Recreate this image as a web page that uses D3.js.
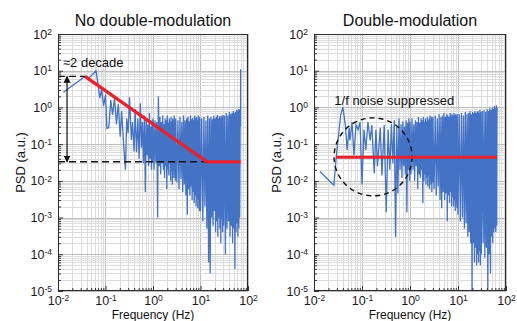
<!DOCTYPE html>
<html>
<head>
<meta charset="utf-8">
<script src="https://cdn.jsdelivr.net/npm/d3@7/dist/d3.min.js"></script>
<style>
  body { margin: 0; background: #fff; }
  svg { display: block; font-family: Arial, "Liberation Sans", sans-serif; }
</style>
</head>
<body>
<svg id="chart" width="517" height="321"></svg>
<script>
// ---- data ----
const titles = ['No double-modulation', 'Double-modulation'];
const xTicks = [0.01, 0.1, 1, 10, 100];
const yTicks = [1e-5, 1e-4, 1e-3, 1e-2, 1e-1, 1, 10, 100];

// [frequency (Hz), PSD (a.u.)]
const psdNoMod = [
  [0.013, 2.6], [0.037, 7], [0.045, 6.3], [0.063, 10], [0.071, 3.5], [0.076, 1.8], [0.083, 3.2],
  [0.091, 1.1], [0.1, 2.2], [0.107, 0.27], [0.117, 0.28], [0.129, 1.6], [0.141, 0.63], [0.155, 1.8],
  [0.17, 0.35], [0.186, 1.26], [0.204, 0.16], [0.219, 0.8], [0.24, 0.1], [0.263, 0.02], [0.28, 0.5],
  [0.30, 0.2], [0.32, 1.9], [0.35, 0.13], [0.37, 0.4], [0.40, 0.063],
  [0.42, 0.9], [0.45, 0.06], [0.48, 0.5], [0.51, 0.04], [0.54, 1.3], [0.57, 0.08], [0.60, 0.4],
  [0.63, 0.03], [0.66, 0.6], [0.69, 0.005], [0.72, 0.5], [0.75, 0.05], [0.78, 0.35], [0.81, 0.025],
  [0.84, 0.7], [0.87, 0.04], [0.90, 0.3], [0.93, 0.02], [0.96, 0.45], [0.99, 0.035],
  [1.00, 0.5], [1.05, 0.02], [1.10, 0.45], [1.15, 0.03], [1.20, 0.4], [1.25, 0.001], [1.30, 2.0],
  [1.35, 0.025], [1.40, 0.55], [1.45, 0.015], [1.50, 0.4], [1.55, 0.03], [1.60, 0.6], [1.65, 0.02],
  [1.70, 0.35], [1.75, 0.012], [1.80, 0.5], [1.85, 0.025], [1.90, 0.45], [1.95, 0.006], [2.00, 0.6],
  [2.05, 0.02], [2.10, 0.38], [2.15, 0.014], [2.20, 0.5], [2.25, 0.03], [2.30, 0.42], [2.35, 0.01],
  [2.40, 0.55], [2.45, 0.018], [2.50, 0.4], [2.55, 0.008], [2.60, 0.5], [2.65, 0.02], [2.70, 0.45],
  [2.75, 0.012], [2.80, 0.6], [2.85, 0.016], [2.90, 0.4], [2.95, 0.01],
  [3.0, 0.5], [3.175, 0.009], [3.35, 0.45], [3.525, 0.006], [3.7, 0.55], [3.875, 0.011], [4.05, 0.4],
  [4.225, 0.005], [4.4, 0.6], [4.575, 0.008], [4.75, 0.45], [4.925, 0.004], [5.1, 0.5], [5.275, 0.0012],
  [5.45, 0.55], [5.625, 0.006], [5.8, 0.42], [5.975, 0.004], [6.15, 0.6], [6.325, 0.007], [6.5, 0.48],
  [6.675, 0.003], [6.85, 0.52], [7.025, 0.005], [7.2, 0.45], [7.375, 0.0025], [7.55, 0.6], [7.725, 0.004],
  [7.9, 0.5], [8.075, 0.002], [8.25, 0.55], [8.425, 0.0035], [8.6, 0.45], [8.775, 0.0018], [8.95, 0.6],
  [9.125, 0.003], [9.3, 0.5], [9.475, 0.0015], [9.65, 0.55],
  [10.0, 0.0015], [10.6, 0.5], [11.2, 0.0008], [11.8, 0.55], [12.4, 0.002], [13.0, 0.45], [13.6, 0.0005],
  [14.2, 0.6], [14.8, 0.00006], [15.4, 0.5], [16.0, 0.00003], [16.6, 0.55], [17.2, 0.001], [17.8, 0.48],
  [18.4, 0.0006], [19.0, 0.6], [19.6, 0.0015], [20.2, 0.5], [20.8, 0.0004], [21.4, 0.55], [22.0, 0.0008],
  [22.6, 0.62], [23.2, 0.0003], [23.8, 0.5], [24.4, 0.001], [25.0, 0.58], [25.6, 0.0005], [26.2, 0.52],
  [26.8, 0.0002], [27.4, 0.6], [28.0, 0.0009], [28.6, 0.55], [29.2, 0.0004], [29.8, 0.62],
  [30.6, 0.0006], [32.0, 0.6], [33.4, 0.0001], [34.8, 0.7], [36.2, 0.0005], [37.6, 0.6], [39.0, 0.0008],
  [40.4, 0.75], [41.8, 0.0003], [43.2, 0.65], [44.6, 0.0006], [46.0, 0.7], [47.4, 0.0002], [48.8, 0.8],
  [50.2, 0.0005], [51.6, 0.7], [53.0, 0.00004], [54.4, 0.75], [55.8, 0.0004], [57.2, 0.85], [58.6, 0.0007],
  [60.0, 0.8], [61.4, 0.0003], [62.8, 0.9], [64.2, 0.0005], [65.6, 0.85], [67.0, 0.001], [68.4, 0.9],
  [69.5, 0.3], [70, 11]
];

const psdDoubleMod = [
  [0.0133, 0.018], [0.026, 0.0076], [0.029, 0.044], [0.036, 0.63], [0.04, 1.0], [0.045, 0.33],
  [0.049, 0.07], [0.054, 0.28], [0.056, 0.126], [0.062, 0.4], [0.068, 0.05], [0.075, 0.33],
  [0.083, 0.25], [0.091, 0.4], [0.1, 0.008], [0.11, 0.25], [0.12, 0.07], [0.133, 0.4], [0.148, 0.126],
  [0.16, 0.33], [0.18, 0.016], [0.195, 0.25], [0.21, 0.025], [0.24, 0.28], [0.26, 0.014], [0.29, 0.33],
  [0.32, 0.0014], [0.35, 0.25],
  [0.38, 0.02], [0.41, 0.35], [0.44, 0.03], [0.47, 0.45], [0.50, 0.0003], [0.53, 0.3], [0.56, 0.0045],
  [0.59, 0.5], [0.62, 0.02], [0.65, 0.35], [0.68, 0.012], [0.71, 0.42], [0.74, 0.025], [0.77, 0.3],
  [0.80, 0.015], [0.83, 0.45], [0.86, 0.0014], [0.89, 0.38], [0.92, 0.02], [0.95, 0.5], [0.98, 0.01],
  [1.00, 0.4], [1.05, 0.015], [1.10, 0.5], [1.15, 0.02], [1.20, 0.35], [1.25, 0.01], [1.30, 0.45],
  [1.35, 0.025], [1.40, 0.4], [1.45, 0.006], [1.50, 0.55], [1.55, 0.015], [1.60, 0.38], [1.65, 0.012],
  [1.70, 0.5], [1.75, 0.02], [1.80, 0.45], [1.85, 0.0025], [1.90, 0.55], [1.95, 0.01], [2.00, 0.4],
  [2.05, 0.015], [2.10, 0.5], [2.15, 0.008], [2.20, 0.42], [2.25, 0.012], [2.30, 0.55], [2.35, 0.007],
  [2.40, 0.45], [2.45, 0.014], [2.50, 0.5], [2.55, 0.006], [2.60, 0.6], [2.65, 0.01], [2.70, 0.45],
  [2.75, 0.008], [2.80, 0.55], [2.85, 0.005], [2.90, 0.5], [2.95, 0.009],
  [3.0, 0.55], [3.175, 0.006], [3.35, 0.6], [3.525, 0.004], [3.7, 0.5], [3.875, 0.007], [4.05, 0.65],
  [4.225, 0.003], [4.4, 0.55], [4.575, 0.0018], [4.75, 0.6], [4.925, 0.005], [5.1, 0.7], [5.275, 0.003],
  [5.45, 0.55], [5.625, 0.0045], [5.8, 0.65], [5.975, 0.0008], [6.15, 0.6], [6.325, 0.004], [6.5, 0.55],
  [6.675, 0.0025], [6.85, 0.7], [7.025, 0.005], [7.2, 0.6], [7.375, 0.002], [7.55, 0.65], [7.725, 0.0035],
  [7.9, 0.6], [8.075, 0.002], [8.25, 0.7], [8.425, 0.003], [8.6, 0.6], [8.775, 0.0015], [8.95, 0.65],
  [9.125, 0.0025], [9.3, 0.6], [9.475, 0.0018], [9.65, 0.65],
  [10.0, 0.0012], [10.6, 0.65], [11.2, 0.0008], [11.8, 0.7], [12.4, 0.001], [13.0, 0.6], [13.6, 0.0005],
  [14.2, 0.75], [14.8, 0.0007], [15.4, 0.65], [16.0, 0.0003], [16.6, 0.7], [17.2, 0.0004], [17.8, 0.8],
  [18.4, 0.0002], [19.0, 0.65], [19.6, 0.00001], [20.2, 0.75], [20.8, 0.0002], [21.4, 0.7], [22.0, 0.00006],
  [22.6, 0.8], [23.2, 0.00015], [23.8, 0.7], [24.4, 0.00005], [25.0, 0.75], [25.6, 0.0001], [26.2, 0.8],
  [26.8, 0.00006], [27.4, 0.7], [28.0, 0.00012], [28.6, 0.85], [29.2, 0.00005], [29.8, 0.75],
  [30.6, 0.0001], [32.0, 0.8], [33.4, 0.0002], [34.8, 0.85], [36.2, 0.00008], [37.6, 0.75], [39.0, 0.00015],
  [40.4, 0.9], [41.8, 0.00001], [43.2, 0.8], [44.6, 0.0001], [46.0, 0.95], [47.4, 0.00003], [48.8, 0.85],
  [50.2, 0.0003], [51.6, 1.0], [53.0, 0.0002], [54.4, 0.9], [55.8, 0.0004], [57.2, 1.1], [58.6, 0.0005],
  [60.0, 0.95], [61.4, 0.0004], [62.8, 1.15], [64.2, 0.0006], [65.0, 1.0]
];

// red guide lines
const fitNoMod = [[0.037, 7], [13.7, 0.033], [70, 0.033]];
const fitDoubleMod = [[0.029, 0.044], [65, 0.044]];

// "≈2 decade" annotation (left panel)
const dashTop = [[0.01, 7], [0.037, 7]];
const dashBottom = [[0.01, 0.033], [22, 0.033]];
const arrowSpan = [[0.0155, 7], [0.0155, 0.033]];
const decadeLabelAt = [0.0127, 13];

// "1/f noise suppressed" annotation (right panel)
const circleCenter = [0.17, 0.045];
const noiseLabelAt = [0.0265, 1.2];

// ---- layout ----
const svg = d3.select('#chart');
const plotTop = 34, plotBottom = 291;
const panels = [
  { title: titles[0], xRange: [58, 248], data: psdNoMod, fit: fitNoMod },
  { title: titles[1], xRange: [314, 506], data: psdDoubleMod, fit: fitDoubleMod }
];
const blue = '#4472c4';
const red = '#e8212b';

const y = d3.scaleLog().domain([1e-5, 100]).range([plotBottom, plotTop]);
const defs = svg.append('defs');

defs.append('marker')
  .attr('id', 'arrowhead')
  .attr('viewBox', '0 0 10 10')
  .attr('refX', 9).attr('refY', 5)
  .attr('markerWidth', 7).attr('markerHeight', 8)
  .attr('markerUnits', 'userSpaceOnUse')
  .attr('orient', 'auto-start-reverse')
  .append('path')
  .attr('d', 'M0,0 L10,5 L0,10 z')
  .attr('fill', '#111');

function isMajor(v) {
  return Math.abs(Math.log10(v) - Math.round(Math.log10(v))) < 1e-6;
}

function supLabel(sel) {
  sel.each(function(d) {
    const t = d3.select(this);
    const exp = Math.round(Math.log10(d));
    t.text('');
    t.append('tspan').text('10');
    t.append('tspan').attr('dy', '-0.45em').attr('font-size', '8.5px').text(exp);
  });
}

panels.forEach((p, i) => {
  const x = d3.scaleLog().domain([0.01, 100]).range(p.xRange);
  const g = svg.append('g');
  const left = p.xRange[0], right = p.xRange[1];

  // grid
  const grid = g.append('g');
  grid.selectAll('.gx').data(x.ticks())
    .enter().append('line')
    .attr('x1', d => Math.round(x(d)) + 0.5).attr('x2', d => Math.round(x(d)) + 0.5)
    .attr('y1', plotTop).attr('y2', plotBottom)
    .attr('stroke', d => isMajor(d) ? '#bdbdbd' : '#dcdcdc')
    .attr('stroke-width', 1);
  grid.selectAll('.gy').data(y.ticks())
    .enter().append('line')
    .attr('y1', d => Math.round(y(d)) + 0.5).attr('y2', d => Math.round(y(d)) + 0.5)
    .attr('x1', left).attr('x2', right)
    .attr('stroke', d => isMajor(d) ? '#bdbdbd' : '#dcdcdc')
    .attr('stroke-width', 1);

  // trace
  const clipId = 'clip' + i;
  defs.append('clipPath').attr('id', clipId)
    .append('rect').attr('x', left).attr('y', plotTop)
    .attr('width', right - left).attr('height', plotBottom - plotTop);

  const line = d3.line().x(d => x(d[0])).y(d => y(d[1]));
  g.append('path')
    .datum(p.data)
    .attr('clip-path', `url(#${clipId})`)
    .attr('fill', 'none')
    .attr('stroke', blue)
    .attr('stroke-width', 1.3)
    .attr('d', line);

  // annotations
  if (i === 0) {
    [dashTop, dashBottom].forEach(seg => {
      g.append('path').datum(seg)
        .attr('d', line).attr('fill', 'none')
        .attr('stroke', '#111').attr('stroke-width', 1.4)
        .attr('stroke-dasharray', '7,4');
    });
    g.append('path').datum(arrowSpan)
      .attr('d', line).attr('fill', 'none')
      .attr('stroke', '#111').attr('stroke-width', 1.2)
      .attr('marker-start', 'url(#arrowhead)')
      .attr('marker-end', 'url(#arrowhead)');
    g.append('text')
      .attr('x', x(decadeLabelAt[0])).attr('y', y(decadeLabelAt[1]))
      .attr('font-size', '13px').attr('fill', '#111')
      .text('≈2 decade');
  } else {
    g.append('circle')
      .attr('cx', x(circleCenter[0])).attr('cy', y(circleCenter[1]))
      .attr('r', 39)
      .attr('fill', 'none').attr('stroke', '#111')
      .attr('stroke-width', 1.4).attr('stroke-dasharray', '5,4');
    g.append('text')
      .attr('x', x(noiseLabelAt[0])).attr('y', y(noiseLabelAt[1]))
      .attr('font-size', '13px').attr('fill', '#111')
      .text('1/f noise suppressed');
  }

  // red fit
  g.append('path').datum(p.fit)
    .attr('d', line).attr('fill', 'none')
    .attr('stroke', red).attr('stroke-width', 3.2)
    .attr('stroke-linejoin', 'round');

  // axes
  const xAxis = d3.axisBottom(x).tickValues(xTicks).tickSize(-5).tickPadding(5);
  const xMinor = d3.axisBottom(x).tickValues(x.ticks().filter(d => !isMajor(d))).tickSize(-3).tickFormat('');
  const yAxis = d3.axisLeft(y).tickValues(yTicks).tickSize(-5).tickPadding(6);
  const yMinor = d3.axisLeft(y).tickValues(y.ticks().filter(d => !isMajor(d))).tickSize(-3).tickFormat('');

  [xMinor, xAxis].forEach(ax => {
    g.append('g').attr('class', 'axis')
      .attr('transform', `translate(0,${plotBottom})`)
      .call(ax);
  });
  [yMinor, yAxis].forEach(ax => {
    g.append('g').attr('class', 'axis')
      .attr('transform', `translate(${left},0)`)
      .call(ax);
  });
  g.selectAll('.axis .domain').remove();
  g.selectAll('.axis line').attr('stroke', '#333');
  g.selectAll('.axis text')
    .attr('font-size', '12.5px').attr('fill', '#1a1a1a')
    .attr('font-family', 'Arial, "Liberation Sans", sans-serif');
  g.selectAll('.axis text').filter(d => isMajor(d)).call(supLabel);

  // frame
  g.append('rect')
    .attr('x', left + 0.5).attr('y', plotTop + 0.5)
    .attr('width', right - left - 1).attr('height', plotBottom - plotTop - 1)
    .attr('fill', 'none').attr('stroke', '#2b2b2b').attr('stroke-width', 1);

  // titles and labels
  const cx = (left + right) / 2;
  g.append('text')
    .attr('x', cx).attr('y', 26)
    .attr('text-anchor', 'middle')
    .attr('font-size', '16px').attr('fill', '#111')
    .text(p.title);
  g.append('text')
    .attr('x', cx).attr('y', 319)
    .attr('text-anchor', 'middle')
    .attr('font-size', '12px').attr('fill', '#111')
    .text('Frequency (Hz)');
  g.append('text')
    .attr('transform', `translate(${left - 33},${(plotTop + plotBottom) / 2}) rotate(-90)`)
    .attr('text-anchor', 'middle')
    .attr('font-size', '13px').attr('fill', '#111')
    .text('PSD (a.u.)');
});
</script>
</body>
</html>
